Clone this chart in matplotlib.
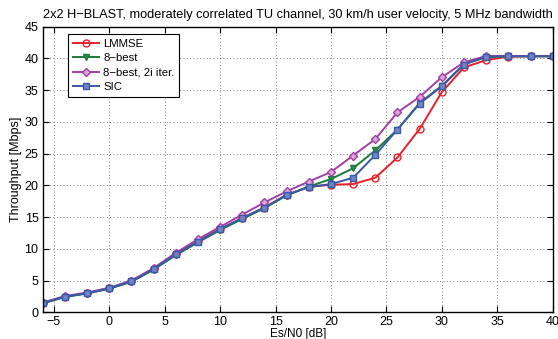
import matplotlib
matplotlib.use("Agg")
import matplotlib.pyplot as plt

plt.rcParams['font.family'] = ['Liberation Sans', 'DejaVu Sans']

es_n0 = [-6, -4, -2, 0, 2, 4, 6, 8, 10, 12, 14, 16, 18, 20, 22, 24, 26, 28, 30, 32, 34, 36, 38, 40]
lmmse = [1.4, 2.45, 3.0, 3.75, 4.85, 6.8, 9.15, 11.2, 13.1, 14.85, 16.5, 18.5, 19.75, 20.1, 20.2, 21.2,
         24.4, 28.9, 34.7, 38.6, 39.75, 40.3, 40.35, 40.35]
best8 = [1.4, 2.4, 2.95, 3.7, 4.8, 6.7, 9.0, 11.0, 12.95, 14.7, 16.4, 18.4, 19.8, 21.0, 22.7, 25.5,
         28.8, 33.0, 35.7, 39.1, 40.2, 40.35, 40.35, 40.35]
best8_2i = [1.5, 2.55, 3.1, 3.85, 5.0, 6.95, 9.35, 11.5, 13.45, 15.4, 17.3, 19.05, 20.6, 22.1, 24.7, 27.3,
            31.5, 33.95, 37.05, 39.4, 40.4, 40.4, 40.4, 40.4]
sic = [1.45, 2.45, 3.0, 3.75, 4.85, 6.8, 9.1, 11.1, 13.1, 14.85, 16.5, 18.5, 19.75, 20.2, 21.2, 24.8,
       28.8, 32.9, 35.6, 39.05, 40.3, 40.35, 40.35, 40.35]

labels = ['LMMSE', '8\u2212best', '8\u2212best, 2i iter.', 'SIC']
title = '2x2 H\u2212BLAST, moderately correlated TU channel, 30 km/h user velocity, 5 MHz bandwidth'

fig = plt.figure(figsize=(5.58, 3.39), dpi=100)
ax = fig.add_axes([0.0765, 0.079, 0.914, 0.842])

styles = [
    (lmmse, '#e8202a', 'o', 'none'),
    (best8, '#1c7a3c', 'v', '#2f8a4a'),
    (best8_2i, '#a23fa6', 'D', '#d9a6dc'),
    (sic, '#3b58a6', 's', '#6f86c6'),
]
for (ys, c, m, fc), lab in zip(styles, labels):
    ms = 4.5 if m == 'D' else 5
    ax.plot(es_n0, ys, color=c, marker=m, markersize=ms, markerfacecolor=fc,
            markeredgecolor=c, markeredgewidth=1.0, linewidth=1.4, label=lab)

ax.set_xlim(-6, 40)
ax.set_ylim(0, 45)
ax.set_xticks(range(-5, 41, 5))
ax.set_yticks(range(0, 46, 5))
ax.set_xticklabels([str(v).replace('-', '\u2212') for v in range(-5, 41, 5)])
ax.grid(True, linestyle=(0, (1, 3)), color='#555555', linewidth=0.6)
ax.tick_params(direction='in', top=True, right=True, labelsize=9, length=4, width=0.8, pad=3)
for s in ax.spines.values():
    s.set_linewidth(1.0)
ax.set_xlabel('Es/N0 [dB]', fontsize=8.5, labelpad=0)
ax.set_ylabel('Throughput [Mbps]', fontsize=9, labelpad=2)
ax.set_title(title, fontsize=9.2, pad=6)

leg = ax.legend(loc='upper left', bbox_to_anchor=(0.05, 0.973), fontsize=8.2, frameon=True,
                fancybox=False, edgecolor='black', framealpha=1, borderpad=0.4,
                labelspacing=0.38, handlelength=2.3, handletextpad=0.4, borderaxespad=0.0)
leg.get_frame().set_linewidth(0.8)

fig.savefig('out.png', dpi=100)
